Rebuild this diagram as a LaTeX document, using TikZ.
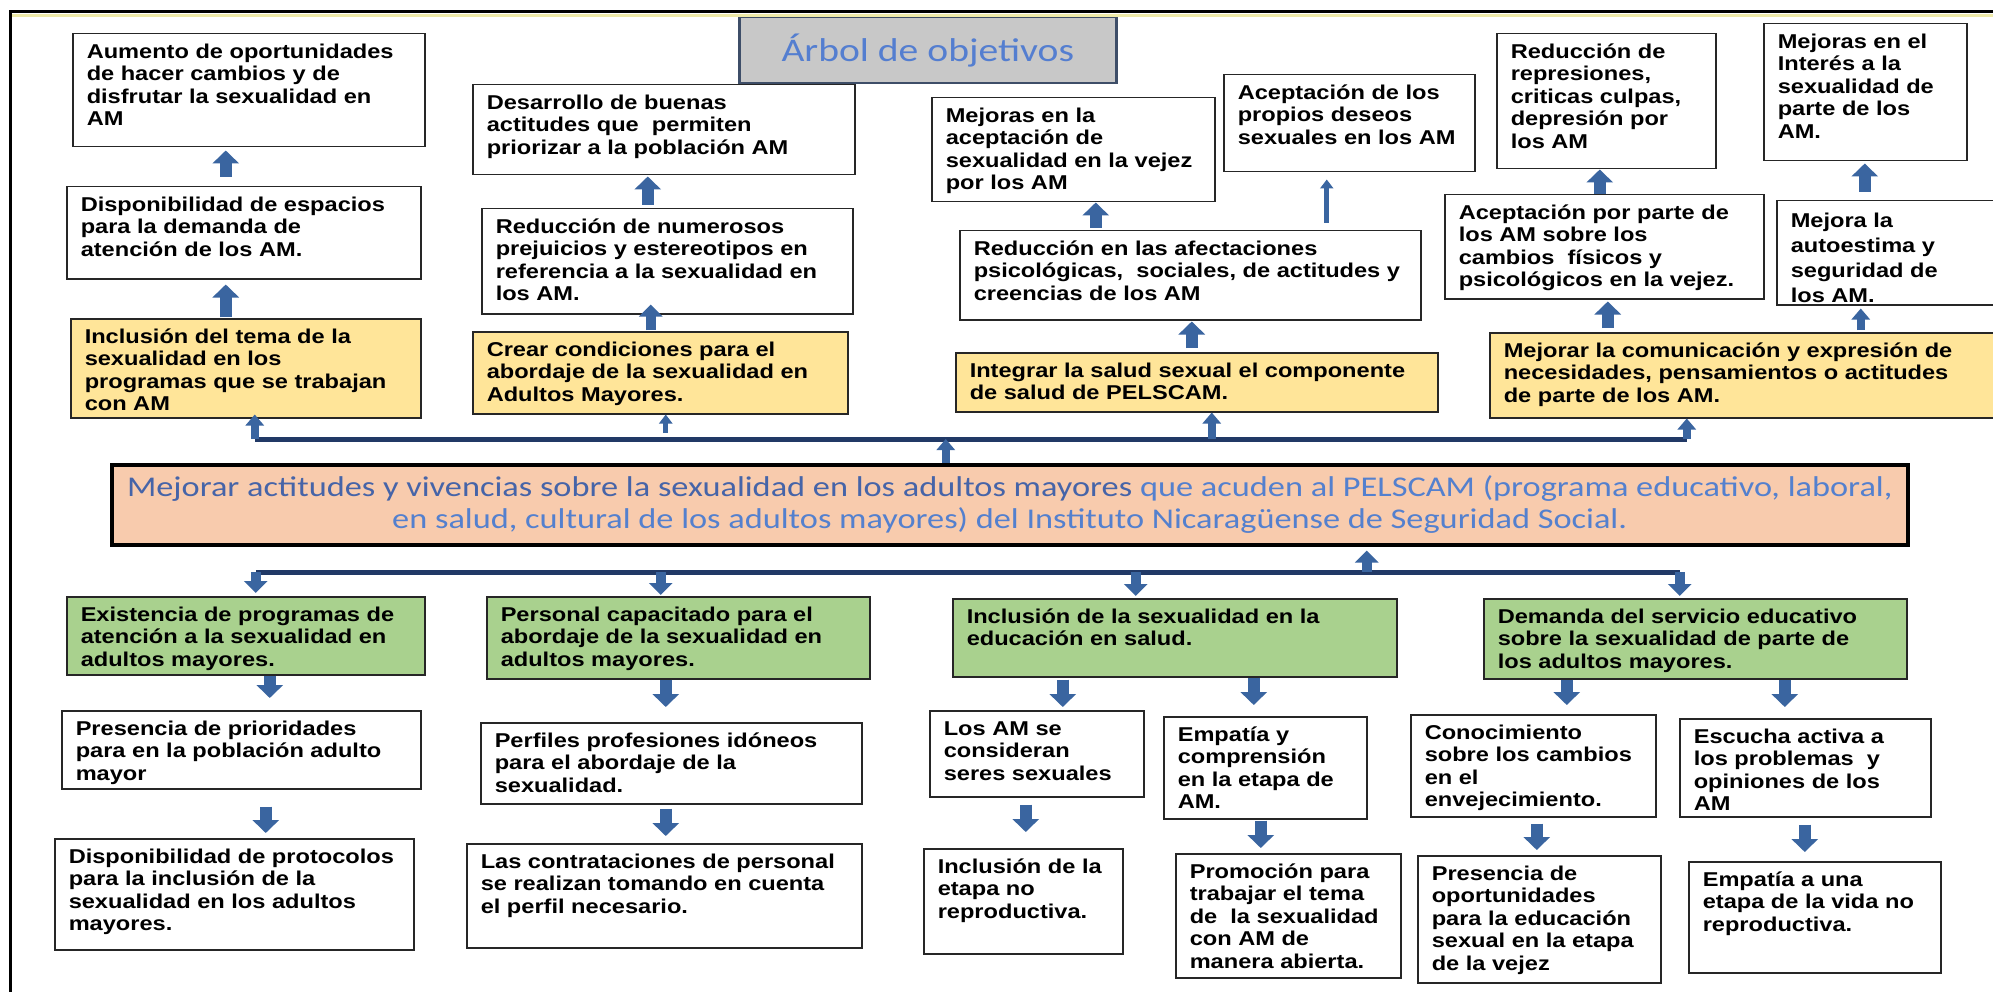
\documentclass[tikz,border=0pt]{standalone}
\usepackage{fontspec}
\usepackage{tikz}
\usetikzlibrary{arrows.meta}
\newfontfamily\boxsans[FakeStretch=1.18]{Liberation Sans}
\newfontfamily\calib[FakeStretch=1.2]{Carlito}
\definecolor{arrowblue}{RGB}{58,101,160}
\definecolor{busblue}{RGB}{33,57,102}
\definecolor{boxline}{RGB}{38,38,38}
\definecolor{objyellow}{RGB}{255,229,153}
\definecolor{objgreen}{RGB}{169,209,142}
\definecolor{goalsalmon}{RGB}{248,203,173}
\definecolor{goaldark}{RGB}{70,100,168}
\definecolor{goallight}{RGB}{84,128,206}
\definecolor{titlegray}{RGB}{200,200,200}
\definecolor{titleline}{RGB}{62,78,104}
\definecolor{titleblue}{RGB}{84,126,208}
\definecolor{framegold}{RGB}{238,234,168}
\tikzset
{
    objbox/.style 2 args = {draw=boxline, line width=1.5pt, fill=white, anchor=north west, inner xsep=8pt, inner ysep=9pt,
        font=\boxsans\bfseries\fontsize{20pt}{22.4pt}\selectfont,
        execute at begin node={\begin{minipage}[t][\dimexpr#2-18pt\relax][t]{\dimexpr#1-16pt\relax}\raggedright\leftskip=6pt\hbadness=10000\strut},
        execute at end node={\end{minipage}}},
    goalbox/.style  = {draw=black, line width=3.5pt, fill=goalsalmon, anchor=north west, minimum width=1796pt, minimum height=80pt,
        inner sep=0pt, align=center, text=goallight, font=\calib\fontsize{28.6pt}{31.5pt}\selectfont},
    titlebox/.style = {draw=titleline, line width=2.5pt, fill=titlegray, anchor=north west, minimum width=377pt, minimum height=66pt,
        text=titleblue, font=\calib\fontsize{33pt}{36pt}\selectfont},
    bigarr/.style   = {draw=arrowblue, line width=12pt, -{Triangle[width=26pt,length=13pt]}},
    midarr/.style   = {draw=arrowblue, line width=10pt, -{Triangle[width=23pt,length=12pt]}},
    busarr/.style   = {draw=arrowblue, line width=8pt, -{Triangle[width=18pt,length=11pt]}},
    thinarr/.style  = {draw=arrowblue, line width=5pt, -{Triangle[width=13pt,length=9pt]}},
    busline/.style  = {draw=busblue, line width=5pt}
}
\begin{document}
\begin{tikzpicture}[x=1pt, y=-1pt]
    \fill[white] (0,0) rectangle (1993,992);
    \useasboundingbox (0,0) rectangle (1993,992);
    \clip (0,0) rectangle (1993,992);

    % title
    \node [titlebox] (title) at (738,16) {Árbol de objetivos};

    % effects
    \node [objbox={352pt}{113pt}] (a1) at (72,33) {Aumento de oportunidades\\de hacer cambios y de\\disfrutar la sexualidad en\\AM};
    \node [objbox={354pt}{92pt}] (a2) at (66,186) {Disponibilidad de espacios\\para la demanda de\\atención de los AM.};
    \node [objbox={350pt}{99pt}, fill=objyellow] (a3) at (70,318) {Inclusión del tema de la\\sexualidad en los\\programas que se trabajan\\con AM};
    \node [objbox={382pt}{90pt}] (b1) at (472,84) {Desarrollo de buenas\\actitudes que~~permiten\\priorizar a la población AM};
    \node [objbox={371pt}{105pt}] (b2) at (481,208) {Reducción de numerosos\\prejuicios y estereotipos en\\referencia a la sexualidad en\\los AM.};
    \node [objbox={375pt}{82pt}, fill=objyellow] (b3) at (472,331) {Crear condiciones para el\\abordaje de la sexualidad en\\Adultos Mayores.};
    \node [objbox={283pt}{104pt}] (c1) at (931,97) {Mejoras en la\\aceptación de\\sexualidad en la vejez\\por los AM};
    \node [objbox={251pt}{97pt}] (d1) at (1223,74) {Aceptación de los\\propios deseos\\sexuales en los AM};
    \node [objbox={461pt}{89pt}] (c2) at (959,230) {Reducción en las afectaciones\\psicológicas,~~sociales, de actitudes y\\creencias de los AM};
    \node [objbox={482pt}{59pt}, fill=objyellow] (c3) at (955,352) {Integrar la salud sexual el componente\\de salud de PELSCAM.};
    \node [objbox={219pt}{135pt}] (e1) at (1496,33) {Reducción de\\represiones,\\criticas culpas,\\depresión por\\los AM};
    \node [objbox={319pt}{104pt}] (e2) at (1444,194) {Aceptación por parte de\\los AM sobre los\\cambios~~físicos y\\psicológicos en la vejez.};
    \node [objbox={203pt}{137pt}] (f1) at (1763,23) {Mejoras en el\\Interés a la\\sexualidad de\\parte de los\\AM.};
    \node [objbox={240pt}{104pt}, font=\boxsans\bfseries\fontsize{20pt}{25pt}\selectfont] (f2) at (1776,200) {Mejora la\\autoestima y\\seguridad de\\los AM.};
    \node [objbox={520pt}{85pt}, fill=objyellow] (g) at (1489,332) {Mejorar la comunicación y expresión de\\necesidades, pensamientos o actitudes\\de parte de los AM.};

    % goal
    \node [goalbox] (goal) at (110,463) {{\color{goaldark}Mejorar actitudes y vivencias sobre la sexualidad en los adultos mayores} que acuden al PELSCAM (programa educativo, laboral,\\en salud, cultural de los adultos mayores) del Instituto Nicaragüense de Seguridad Social.};

    % means
    \node [objbox={358pt}{78pt}, fill=objgreen] (h) at (66,596) {Existencia de programas de\\atención a la sexualidad en\\adultos mayores.};
    \node [objbox={383pt}{82pt}, fill=objgreen] (i) at (486,596) {Personal capacitado para el\\abordaje de la sexualidad en\\adultos mayores.};
    \node [objbox={444pt}{78pt}, fill=objgreen] (j) at (952,598) {Inclusión de la sexualidad en la\\educación en salud.};
    \node [objbox={423pt}{80pt}, fill=objgreen] (k) at (1483,598) {Demanda del servicio educativo\\sobre la sexualidad de parte de\\los adultos mayores.};
    \node [objbox={359pt}{78pt}] (h1) at (61,710) {Presencia de prioridades\\para en la población adulto\\mayor};
    \node [objbox={359pt}{111pt}] (h2) at (54,838) {Disponibilidad de protocolos\\para la inclusión de la\\sexualidad en los adultos\\mayores.};
    \node [objbox={381pt}{81pt}] (i1) at (480,722) {Perfiles profesiones idóneos\\para el abordaje de la\\sexualidad.};
    \node [objbox={395pt}{104pt}] (i2) at (466,843) {Las contrataciones de personal\\se realizan tomando en cuenta\\el perfil necesario.};
    \node [objbox={214pt}{86pt}] (j1) at (929,710) {Los AM se\\consideran\\seres sexuales};
    \node [objbox={199pt}{105pt}] (j2) at (923,848) {Inclusión de la\\etapa no\\reproductiva.};
    \node [objbox={203pt}{102pt}] (j3) at (1163,716) {Empatía y\\comprensión\\en la etapa de\\AM.};
    \node [objbox={225pt}{124pt}] (j4) at (1175,853) {Promoción para\\trabajar el tema\\de~~la sexualidad\\con AM de\\manera abierta.};
    \node [objbox={245pt}{102pt}] (k1) at (1410,714) {Conocimiento\\sobre los cambios\\en el\\envejecimiento.};
    \node [objbox={243pt}{127pt}] (k2) at (1417,855) {Presencia de\\oportunidades\\para la educación\\sexual en la etapa\\de la vejez};
    \node [objbox={251pt}{98pt}] (k3) at (1679,718) {Escucha activa a\\los problemas~~y\\opiniones de los\\AM};
    \node [objbox={252pt}{111pt}] (k4) at (1688,861) {Empatía a una\\etapa de la vida no\\reproductiva.};

    % buses
    \coordinate (topbus) at (0,439);
    \coordinate (lowbus) at (0,572);
    \draw [busline] ([xshift=9pt]a3.south |- topbus) -- ([xshift=-63pt]g.south |- topbus);
    \draw [busline] ([xshift=10pt]h.north |- lowbus) -- ([xshift=-15.5pt]k.north |- lowbus);

    % arrows up
    \draw [bigarr, shorten <=9pt, shorten >=3pt] ([xshift=-18pt]a2.north) -- ([xshift=-18pt]a2.north |- a1.south);
    \draw [bigarr, shorten <=1pt, shorten >=5pt] ([xshift=-20pt]a3.north) -- ([xshift=-20pt]a3.north |- a2.south);
    \draw [busarr, shorten >=-4pt] ([xshift=9pt]a3.south |- topbus) -- ([xshift=9pt]a3.south);
    \draw [bigarr, shorten <=3pt, shorten >=1pt] ([xshift=-19.5pt]b2.north) -- ([xshift=-19.5pt]b2.north |- b1.south);
    \draw [midarr, shorten <=1pt, shorten >=-10pt] ([xshift=-9.5pt]b3.north) -- ([xshift=-9.5pt]b3.north |- b2.south);
    \draw [thinarr, shorten <=6pt] ([xshift=5.5pt]b3.south |- topbus) -- ([xshift=5.5pt]b3.south);
    \draw [bigarr, shorten <=2pt] ([xshift=-94.5pt]c2.north) -- ([xshift=-94.5pt]c2.north |- c1.south);
    \draw [thinarr, shorten <=7pt, shorten >=7pt] ([xshift=136.5pt]c2.north) -- ([xshift=136.5pt]c2.north |- d1.south);
    \draw [bigarr, shorten <=4pt, shorten >=1pt] ([xshift=-5pt]c3.north) -- ([xshift=-5pt]c3.north |- c2.south);
    \draw [busarr] ([xshift=15pt]c3.south |- topbus) -- ([xshift=15pt]c3.south);
    \draw [bigarr] ([xshift=-4.5pt]e2.north) -- ([xshift=-4.5pt]e2.north |- e1.south);
    \draw [bigarr, shorten <=4pt, shorten >=2pt] ([xshift=-142pt]g.north) -- ([xshift=-142pt]g.north |- e2.south);
    \draw [bigarr, shorten <=8pt, shorten >=2pt] ([xshift=-32pt]f2.north) -- ([xshift=-32pt]f2.north |- f1.south);
    \draw [busarr, shorten <=2pt, shorten >=3pt] ([xshift=111pt]g.north) -- ([xshift=111pt]g.north |- f2.south);
    \draw [busarr] ([xshift=-63pt]g.south |- topbus) -- ([xshift=-63pt]g.south);
    \draw [busarr] ([xshift=-64pt]goal.north) -- ([xshift=-64pt]goal.north |- topbus);
    \draw [midarr, shorten >=4pt] ([xshift=357pt]goal.south |- lowbus) -- ([xshift=357pt]goal.south);

    % arrows down
    \draw [midarr, shorten >=3pt] ([xshift=10pt]h.north |- lowbus) -- ([xshift=10pt]h.north);
    \draw [midarr, shorten >=1pt] ([xshift=-17.5pt]i.north |- lowbus) -- ([xshift=-17.5pt]i.north);
    \draw [midarr, shorten >=2pt] ([xshift=-39pt]j.north |- lowbus) -- ([xshift=-39pt]j.north);
    \draw [midarr, shorten >=2pt] ([xshift=-15.5pt]k.north |- lowbus) -- ([xshift=-15.5pt]k.north);
    \draw [bigarr, shorten >=12pt] ([xshift=24pt]h.south) -- ([xshift=24pt]h.south |- h1.north);
    \draw [bigarr, shorten <=17pt, shorten >=5pt] ([xshift=24.5pt]h1.south) -- ([xshift=24.5pt]h1.south |- h2.north);
    \draw [bigarr, shorten >=15pt] ([xshift=-12.5pt]i.south) -- ([xshift=-12.5pt]i.south |- i1.north);
    \draw [bigarr, shorten <=4pt, shorten >=7pt] ([xshift=-5.5pt]i1.south) -- ([xshift=-5.5pt]i1.south |- i2.north);
    \draw [bigarr, shorten <=2pt, shorten >=3pt] ([xshift=-112pt]j.south) -- ([xshift=-112pt]j.south |- j1.north);
    \draw [bigarr, shorten <=7pt, shorten >=16pt] ([xshift=-11pt]j1.south) -- ([xshift=-11pt]j1.south |- j2.north);
    \draw [bigarr, shorten >=11pt] ([xshift=79pt]j.south) -- ([xshift=79pt]j.south |- j3.north);
    \draw [bigarr, shorten <=1pt, shorten >=5pt] ([xshift=-4.5pt]j3.south) -- ([xshift=-4.5pt]j3.south |- j4.north);
    \draw [bigarr, shorten >=9pt] ([xshift=-128.5pt]k.south) -- ([xshift=-128.5pt]k.south |- k1.north);
    \draw [bigarr, shorten <=6pt, shorten >=5pt] ([xshift=3.5pt]k1.south) -- ([xshift=3.5pt]k1.south |- k2.north);
    \draw [bigarr, shorten >=11pt] ([xshift=89.5pt]k.south) -- ([xshift=89.5pt]k.south |- k3.north);
    \draw [bigarr, shorten <=7pt, shorten >=9pt] ([xshift=-0.5pt]k3.south) -- ([xshift=-0.5pt]k3.south |- k4.north);

    % frame
    \draw [line width=2.5pt] (10.5,992) -- (10.5,11.5) -- (1993,11.5);
    \draw [framegold, line width=3pt] (12,16) -- (1993,16);
\end{tikzpicture}
\end{document}
